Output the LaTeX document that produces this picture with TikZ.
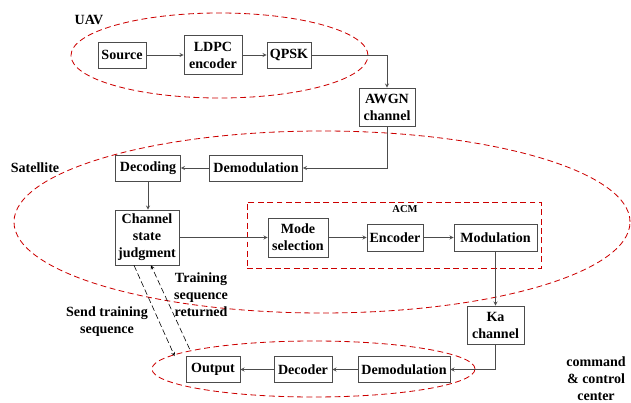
\documentclass[tikz,border=0pt]{standalone}
\usepackage{fontspec}
\setmainfont{Liberation Serif}
\usetikzlibrary{shapes.geometric}
\begin{document}
\begin{tikzpicture}[x=0.03cm,y=-0.03cm,font={\fontsize{12}{14.5}\selectfont\bfseries},
box/.style={draw=black!70,line width=0.6pt,align=center,inner sep=0pt},
region/.style={draw=red!80!black,dash pattern=on 5pt off 3pt,line width=0.7pt,inner sep=0pt},
link/.style={->,draw=black!70,line width=0.6pt},
train/.style={->,dash pattern=on 5pt off 2.5pt,line width=0.5pt},
>=stealth]
\useasboundingbox (0,0) rectangle (631,403);
\node[region,ellipse,minimum width=8.91cm,minimum height=2.55cm] (uav) at (219.5,55.5) {};
\node[region,ellipse,minimum width=18.48cm,minimum height=5.46cm] (sat) at (322,222) {};
\node[region,ellipse,minimum width=9.69cm,minimum height=1.68cm] (ccc) at (313.5,369) {};
\node[region,rectangle,minimum width=8.82cm,minimum height=1.98cm] (acm) at (394,235) {};
\node (uavlabel) at (89,20) {UAV};
\node (satlabel) at (35,168) {Satellite};
\node[align=center] (ccclabel) at (596,379) {command\\\& control\\center};
\node[font={\fontsize{9}{10}\selectfont\bfseries}] (acmlabel) at (405,209) {ACM};
\node[box,minimum width=1.44cm,minimum height=0.78cm] (source) at (122,55) {Source};
\node[box,minimum width=1.74cm,minimum height=1.17cm] (ldpc) at (213,55) {LDPC\\encoder};
\node[box,minimum width=1.32cm,minimum height=0.78cm] (qpsk) at (289,55) {QPSK};
\node[box,minimum width=1.68cm,minimum height=1.14cm] (awgn) at (387,107) {AWGN\\channel};
\node[box,minimum width=2.79cm,minimum height=0.78cm] (demsat) at (256,168) {Demodulation};
\node[box,minimum width=1.95cm,minimum height=0.78cm] (decoding) at (148,168) {Decoding};
\node[box,minimum width=1.92cm,minimum height=1.65cm] (csj) at (147,237.5) {Channel\\state\\judgment};
\node[box,minimum width=1.8cm,minimum height=1.17cm] (mode) at (298,237.5) {Mode\\selection};
\node[box,minimum width=1.68cm,minimum height=0.81cm] (enc) at (395,237.5) {Encoder};
\node[box,minimum width=2.49cm,minimum height=0.81cm] (mod) at (495.5,237.5) {Modulation};
\node[box,minimum width=1.71cm,minimum height=1.14cm] (ka) at (495.5,325) {Ka\\channel};
\node[box,minimum width=2.76cm,minimum height=0.78cm] (demcc) at (404,369.5) {Demodulation};
\node[box,minimum width=1.74cm,minimum height=0.78cm] (decoder) at (303,369.5) {Decoder};
\node[box,minimum width=1.62cm,minimum height=0.78cm] (out) at (213,369.5) {Output};
\draw[link] (source)--(ldpc);
\draw[link] (ldpc)--(qpsk);
\draw[link] (qpsk.east) -| (awgn.north);
\draw[link] (awgn.south) |- (demsat.east);
\draw[link] (demsat)--(decoding);
\draw[link] (decoding.south)--(decoding.south |- csj.north);
\draw[link] (csj)--(mode);
\draw[link] (mode)--(enc);
\draw[link] (enc)--(mod);
\draw[link] (mod)--(ka);
\draw[link] (ka.south) |- (demcc.east);
\draw[link] (demcc)--(decoder);
\draw[link] (decoder)--(out);
\coordinate (sendend) at ([xshift=-0.33cm]out.north west);
\coordinate (retstart) at ([xshift=0.12cm,yshift=0.21cm]out.north west);
\draw[train] ([xshift=-0.39cm]csj.south)--(sendend);
\draw[train] (retstart)--([xshift=0.12cm]csj.south);
\node[align=center] (retlabel) at (201,295) {Training\\sequence\\returned};
\node[align=center] (sendlabel) at (107,322) {Send training\\sequence};
\end{tikzpicture}
\end{document}
